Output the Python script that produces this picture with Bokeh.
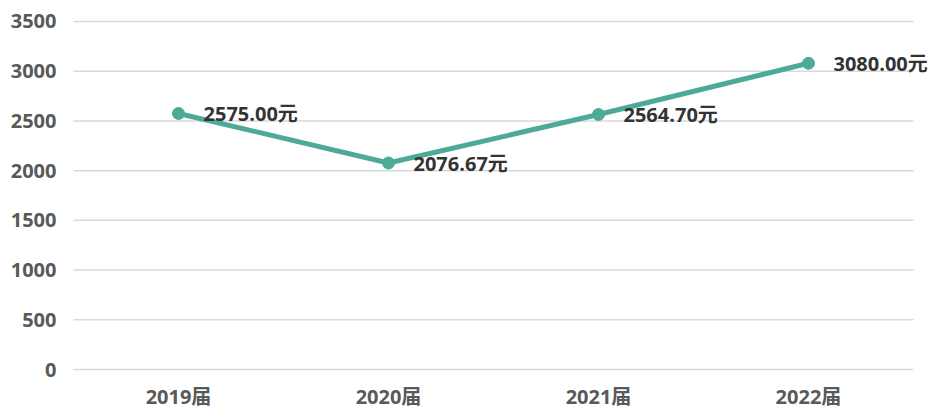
from bokeh.plotting import figure
from bokeh.models import Range1d, FactorRange, FixedTicker, ColumnDataSource
from bokeh.embed import file_html
from bokeh.resources import INLINE
from bokeh.core.properties import value

categories = ["2019届", "2020届", "2021届", "2022届"]
salaries = [2575.00, 2076.67, 2564.70, 3080.00]
labels = [f"{v:.2f}元" for v in salaries]
y_ticks = [0, 500, 1000, 1500, 2000, 2500, 3000, 3500]

FONT = "Open Sans, Noto Sans CJK SC"
LINE_COLOR = "#4daa98"

src = ColumnDataSource(dict(x=categories, y=salaries, label=labels))

# gridlines span exactly the category band (first to last category edge)
grid_src = ColumnDataSource(dict(
    x0=[(categories[0], -0.5)] * len(y_ticks),
    x1=[(categories[-1], 0.5)] * len(y_ticks),
    y=y_ticks,
))

p = figure(width=930, height=412, output_backend="svg", toolbar_location=None,
           x_range=FactorRange(*categories, range_padding=0.081,
                               range_padding_units="absolute"),
           y_range=Range1d(-20, 3520),
           min_border_left=56, min_border_right=0, min_border_top=19, min_border_bottom=38)

p.outline_line_color = None
p.background_fill_color = "white"
p.border_fill_color = "white"
p.xgrid.grid_line_color = None
p.ygrid.grid_line_color = None

p.segment(x0="x0", y0="y", x1="x1", y1="y", source=grid_src,
          line_color="#d9d9d9", line_width=1.5)

p.line("x", "y", source=src, line_color=LINE_COLOR, line_width=5)
p.scatter("x", "y", source=src, size=12, fill_color=LINE_COLOR, line_color=LINE_COLOR)
p.text("x", "y", text="label", source=src, x_offset=25, y_offset=0,
       text_align="left", text_baseline="middle",
       text_font=value(FONT), text_font_style="bold", text_font_size="20px",
       text_color="#333333")

p.yaxis.ticker = FixedTicker(ticks=y_ticks)
for ax in (p.xaxis[0], p.yaxis[0]):
    ax.axis_line_color = None
    ax.major_tick_line_color = None
    ax.minor_tick_line_color = None
    ax.major_tick_out = 0
    ax.major_tick_in = 0
    ax.major_label_text_font = FONT
    ax.major_label_text_font_style = "bold"
    ax.major_label_text_font_size = "20px"
    ax.major_label_text_color = "#595959"
p.yaxis.major_label_standoff = 0
p.xaxis.major_label_standoff = 11

open("out.html", "w").write(file_html(p, INLINE))
